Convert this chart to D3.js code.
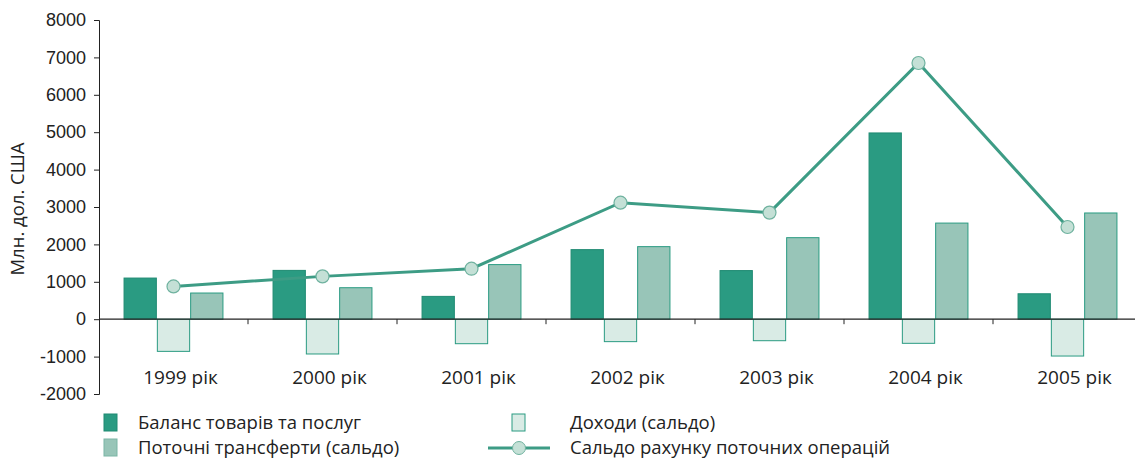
<!DOCTYPE html>
<html>
<head>
<meta charset="utf-8">
<script src="https://cdn.jsdelivr.net/npm/d3@7"></script>
<style>
  body { margin: 0; background: #fff; }
  svg { font-family: "Open Sans", "Noto Sans", sans-serif; }
</style>
</head>
<body>
<div id="chart"></div>
<script>
const years = ['1999 рік', '2000 рік', '2001 рік', '2002 рік', '2003 рік', '2004 рік', '2005 рік'];
const goods = [1100, 1305, 610, 1860, 1300, 4980, 680];
const income = [-860, -930, -655, -600, -575, -645, -985];
const transfers = [700, 842, 1460, 1940, 2180, 2570, 2840];
const balance = [877, 1145, 1350, 3115, 2850, 6850, 2465];
const yTicks = [-2000, -1000, 0, 1000, 2000, 3000, 4000, 5000, 6000, 7000, 8000];

const width = 1135, height = 459;
const dark = '#2a9b82', mid = '#98c5b8', light = '#d9ebe5';

const svg = d3.select('#chart').append('svg')
  .attr('width', width)
  .attr('height', height);

const x = d3.scaleBand().domain(years).range([99, 1142]);
const y = d3.scaleLinear().domain([-2000, 8000]).range([394, 20]);
const bw = x.bandwidth() * 0.2235;

// y axis (plain hyphen for negatives, as in the source)
const yAxis = svg.append('g')
  .attr('transform', 'translate(99,0)')
  .call(d3.axisLeft(y).tickValues(yTicks).tickFormat(d => String(d)).tickSize(5).tickPadding(8));
yAxis.select('.domain').attr('stroke', '#222');
yAxis.selectAll('.tick line').attr('stroke', '#222');
yAxis.selectAll('.tick text')
  .attr('font-size', 18)
  .attr('fill', '#222');

svg.append('text')
  .attr('transform', `translate(24,${y(3000) + 2}) rotate(-90)`)
  .attr('text-anchor', 'middle')
  .attr('font-size', 18.5)
  .attr('fill', '#222')
  .text('Млн. дол. США');

const series = [
  {vals: goods, fill: dark, stroke: '#1f8a72', off: 0},
  {vals: income, fill: light, stroke: dark, off: 1},
  {vals: transfers, fill: mid, stroke: dark, off: 2},
];
const groupStart = d => x(d) + (x.bandwidth() - 3 * bw) / 2;

series.forEach(s => {
  svg.append('g').selectAll('rect')
    .data(years)
    .join('rect')
    .attr('x', (d) => groupStart(d) + s.off * bw + 0.5)
    .attr('width', bw - 1)
    .attr('y', (d, i) => y(Math.max(0, s.vals[i])))
    .attr('height', (d, i) => Math.abs(y(s.vals[i]) - y(0)))
    .attr('fill', s.fill)
    .attr('stroke', s.stroke)
    .attr('stroke-width', 1);
});

// zero line with category ticks
const xAxis = svg.append('g')
  .attr('transform', `translate(0,${y(0)})`);
xAxis.append('line')
  .attr('x1', 99).attr('x2', width)
  .attr('stroke', '#222').attr('stroke-width', 1.2);
xAxis.selectAll('line.tk')
  .data(years.slice(1))
  .join('line')
  .attr('class', 'tk')
  .attr('x1', d => x(d)).attr('x2', d => x(d))
  .attr('y1', 0).attr('y2', 5)
  .attr('stroke', '#222');

svg.append('g').selectAll('text')
  .data(years)
  .join('text')
  .attr('x', d => x(d) + x.bandwidth() / 2 + 7)
  .attr('y', 384)
  .attr('text-anchor', 'middle')
  .attr('font-size', 19)
  .attr('fill', '#222')
  .text(d => d);

// balance line
const line = d3.line()
  .x((d, i) => x(years[i]) + x.bandwidth() / 2)
  .y(d => y(d));
svg.append('path')
  .datum(balance)
  .attr('d', line)
  .attr('fill', 'none')
  .attr('stroke', '#3d9c85')
  .attr('stroke-width', 3);
svg.append('g').selectAll('circle')
  .data(balance)
  .join('circle')
  .attr('cx', (d, i) => x(years[i]) + x.bandwidth() / 2)
  .attr('cy', d => y(d))
  .attr('r', 6.5)
  .attr('fill', '#c4e0d6')
  .attr('stroke', '#6fb29f')
  .attr('stroke-width', 1.2);

// legend
const lg = svg.append('g').attr('font-size', 18.5).attr('fill', '#222');
const legendItems = [
  {label: 'Баланс товарів та послуг', fill: dark, stroke: '#1f8a72', sx: 104, tx: 138, ty: 423},
  {label: 'Поточні трансферти (сальдо)', fill: mid, stroke: '#7ab5a5', sx: 104, tx: 138, ty: 448},
  {label: 'Доходи (сальдо)', fill: light, stroke: dark, sx: 512, tx: 570, ty: 423},
];
legendItems.forEach(it => {
  lg.append('rect')
    .attr('x', it.sx).attr('y', it.ty - 9)
    .attr('width', 13).attr('height', 17)
    .attr('fill', it.fill).attr('stroke', it.stroke);
  lg.append('text')
    .attr('x', it.tx).attr('y', it.ty + 6)
    .text(it.label);
});
lg.append('line')
  .attr('x1', 488).attr('x2', 550)
  .attr('y1', 448).attr('y2', 448)
  .attr('stroke', '#3d9c85').attr('stroke-width', 3);
lg.append('circle')
  .attr('cx', 519).attr('cy', 448).attr('r', 6.5)
  .attr('fill', '#c4e0d6').attr('stroke', '#6fb29f');
lg.append('text')
  .attr('x', 570).attr('y', 454)
  .text('Сальдо рахунку поточних операцій');
</script>
</body>
</html>
